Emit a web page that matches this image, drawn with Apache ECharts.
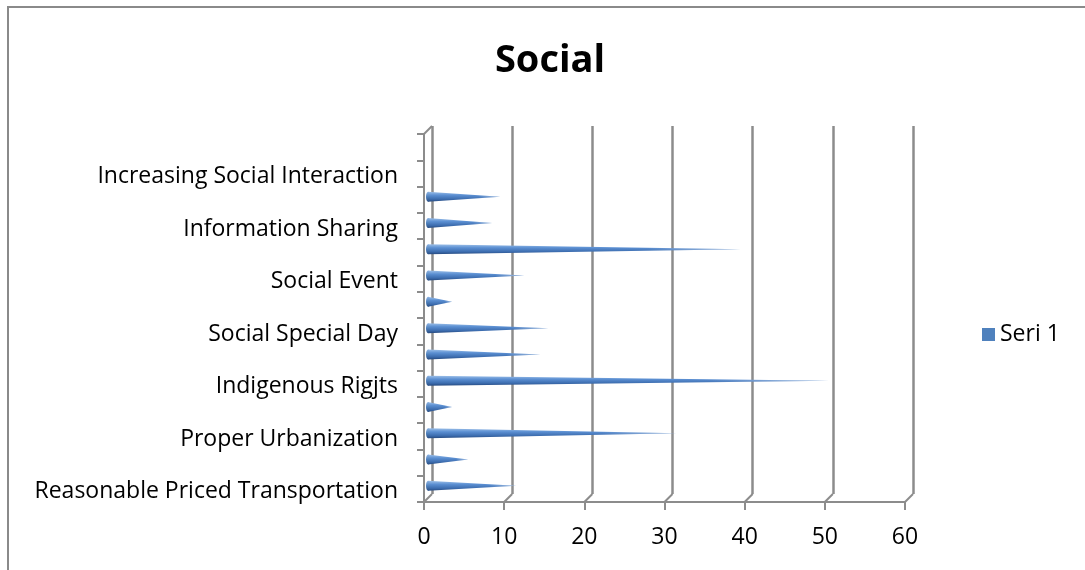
<!DOCTYPE html>
<html>
<head>
<meta charset="utf-8">
<script src="https://cdn.jsdelivr.net/npm/echarts@6/dist/echarts.min.js"></script>
<style>
  html, body { margin: 0; padding: 0; background: #fff; }
  #chart { width: 1085px; height: 570px; }
</style>
</head>
<body>
<div id="chart"></div>
<script>
// Categories bottom to top; only every other name is printed on the axis
const categories = [
  'Reasonable Priced Transportation', '',
  'Proper Urbanization', '',
  'Indigenous Rigjts', '',
  'Social Special Day', '',
  'Social Event', '',
  'Information Sharing', '',
  'Increasing Social Interaction', ''
];
const seriValues = [11, 5, 31, 3, 50, 14, 15, 3, 12, 39, 8, 9, 0, 0];
const xTicks = [0, 10, 20, 30, 40, 50, 60];

const FONT = '"Open Sans", "Noto Sans", sans-serif';
const GRID_GRAY = '#8c8c8c';
const DEPTH = 8;        // 3D wall depth in px
const CONE_HALF = 5;    // half-height of cone base

const chart = echarts.init(document.getElementById('chart'), null, { renderer: 'canvas' });

// Cone drawn from the category's base (value 0) to its value
function renderCone(params, api) {
  const v = api.value(0);
  const idx = api.value(1);
  if (!v) return null;
  const base = api.coord([0, idx]);
  const tip = api.coord([v, idx]);
  const bx = base[0] + 4, by = base[1] - 3;
  const tx = tip[0] + 4, ty = tip[1] - 3;
  const h = CONE_HALF;
  return {
    type: 'group',
    children: [
      {
        type: 'polygon',
        shape: { points: [[bx, by - h], [tx, ty], [bx, by + h]] },
        style: {
          fill: new echarts.graphic.LinearGradient(0, 0, 0, 1, [
            { offset: 0, color: '#9cbfe8' },
            { offset: 0.35, color: '#5b8fd2' },
            { offset: 0.75, color: '#3c6cae' },
            { offset: 1, color: '#26497e' }
          ])
        }
      },
      {
        type: 'polygon',
        shape: { points: [[bx, by - h], [tx, ty], [bx, by + h]] },
        style: {
          fill: new echarts.graphic.LinearGradient(0, 0, 1, 0, [
            { offset: 0, color: 'rgba(255,255,255,0)' },
            { offset: 0.7, color: 'rgba(255,255,255,0)' },
            { offset: 1, color: 'rgba(255,255,255,0.5)' }
          ])
        }
      },
      {
        type: 'ellipse',
        shape: { cx: bx, cy: by, rx: 2, ry: h },
        style: {
          fill: new echarts.graphic.LinearGradient(0, 0, 0, 1, [
            { offset: 0, color: '#8db3e2' },
            { offset: 0.5, color: '#4f81bd' },
            { offset: 1, color: '#2a4f85' }
          ])
        }
      }
    ]
  };
}

// Slanted connectors from the front axes back to the rear wall
function renderDepthLines(params, api) {
  const v = api.value(0);
  const rect = params.coordSys;
  const x = api.coord([v, 0])[0];
  const yBottom = rect.y + rect.height;
  const children = [{
    type: 'line',
    shape: { x1: x, y1: yBottom, x2: x + DEPTH, y2: yBottom - DEPTH },
    style: { stroke: GRID_GRAY, lineWidth: 2 }
  }];
  if (params.dataIndex === 0) {
    children.push({
      type: 'line',
      shape: { x1: x, y1: rect.y, x2: x + DEPTH, y2: rect.y - DEPTH },
      style: { stroke: GRID_GRAY, lineWidth: 2 }
    });
  }
  return { type: 'group', children };
}

const option = {
  backgroundColor: '#fff',
  animation: false,
  title: {
    text: 'Social',
    left: 545,
    top: 37,
    textAlign: 'center',
    textStyle: { fontFamily: FONT, fontSize: 38, fontWeight: 'bold', color: '#000' }
  },
  legend: {
    data: ['Seri 1'],
    orient: 'vertical',
    left: 977,
    top: 318,
    icon: 'rect',
    itemWidth: 13,
    itemHeight: 13,
    itemGap: 8,
    textStyle: { fontFamily: FONT, fontSize: 23, color: '#000' }
  },
  graphic: [{
    type: 'rect',
    shape: { x: 8, y: 7, width: 1100, height: 600 },
    style: { fill: 'none', stroke: '#8a8a8a', lineWidth: 2 },
    silent: true
  }],
  grid: [
    // front plane (axes, ticks, labels, cones)
    { left: 424, top: 134, width: 481, height: 368, containLabel: false },
    // back wall (vertical gridlines)
    { left: 432, top: 126, width: 481, height: 368, containLabel: false }
  ],
  xAxis: [
    {
      gridIndex: 0, type: 'value', min: 0, max: 60, interval: 10,
      axisLine: { show: true, lineStyle: { color: GRID_GRAY, width: 2 } },
      axisTick: { show: true, length: 8, lineStyle: { color: GRID_GRAY, width: 2 } },
      splitLine: { show: false },
      axisLabel: {
        margin: 24, fontFamily: FONT, fontSize: 23, color: '#000',
        formatter: v => xTicks.includes(v) ? String(v) : ''
      }
    },
    {
      gridIndex: 1, type: 'value', min: 0, max: 60, interval: 10,
      axisLine: { show: false }, axisTick: { show: false }, axisLabel: { show: false },
      splitLine: { show: true, lineStyle: { color: GRID_GRAY, width: 2.5 } }
    }
  ],
  yAxis: [
    {
      gridIndex: 0, type: 'category', data: categories,
      axisLine: { show: true, lineStyle: { color: GRID_GRAY, width: 2 } },
      axisTick: { show: true, interval: 0, inside: false, length: 7, lineStyle: { color: GRID_GRAY, width: 2 } },
      axisLabel: {
        interval: 1, margin: 26, verticalAlign: 'top', lineHeight: 6,
        fontFamily: FONT, fontSize: 23, color: '#000'
      },
      splitLine: { show: false }
    },
    {
      gridIndex: 1, type: 'value', min: 0, max: 1,
      show: false, splitLine: { show: false }
    }
  ],
  series: [
    {
      name: 'walls',
      type: 'custom',
      xAxisIndex: 0, yAxisIndex: 0,
      silent: true,
      renderItem: renderDepthLines,
      data: xTicks.map(v => [v, 0])
    },
    {
      name: 'Seri 1',
      type: 'custom',
      xAxisIndex: 0, yAxisIndex: 0,
      itemStyle: { color: '#4f81bd' },
      renderItem: renderCone,
      encode: { x: 0, y: 1 },
      data: seriValues.map((v, i) => [v, i])
    }
  ]
};

chart.setOption(option);
</script>
</body>
</html>
